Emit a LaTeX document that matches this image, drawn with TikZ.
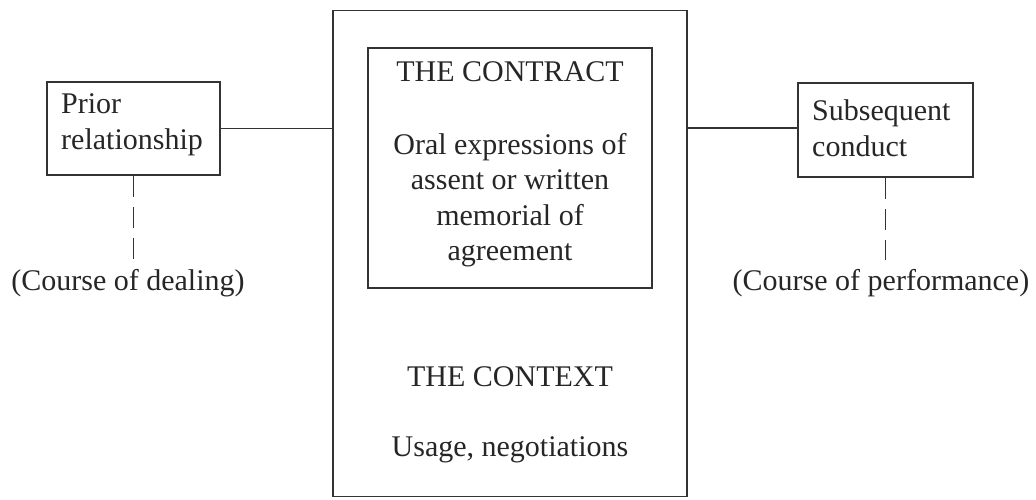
\documentclass[tikz,border=0pt]{standalone}
\usepackage{fontspec}
\setmainfont{Liberation Serif}
\begin{document}
\begin{tikzpicture}[x=1pt,y=-1pt,
  box/.style={draw=black!80, line width=1.8pt, inner sep=0pt},
  txt/.style={font=\fontsize{30}{35.5}\selectfont, text=black!85, inner sep=0pt},
  link/.style={draw=black!80, line width=1.8pt},
  dashlink/.style={draw=black!80, line width=1.8pt, dash pattern=on 21pt off 10pt}]
\useasboundingbox (0,0) rectangle (1036,499);
\node[box, minimum width=354pt, minimum height=486pt] (outer) at (510,253.5) {};
\node[box, minimum width=284pt, minimum height=240pt] (inner) at (510,168) {};
\node[box, minimum width=173pt, minimum height=93pt] (lbox) at (133.5,128.5) {};
\node[box, minimum width=175pt, minimum height=94pt] (rbox) at (885.5,130) {};
\node[txt] (contract) at (510,72) {THE CONTRACT};
\node[txt, align=center] (oral) at (510,200) {Oral expressions of\\assent or written\\memorial of\\agreement};
\node[txt] (context) at (510,377) {THE CONTEXT};
\node[txt] (usage) at (510,450) {Usage, negotiations};
\node[txt, align=left, anchor=west] (ltxt) at (61,125) {Prior\\relationship};
\node[txt, align=left, anchor=west] (rtxt) at (812,128) {Subsequent\\conduct};
\node[txt] (dealing) at (128,283) {(Course of dealing)};
\node[txt] (performance) at (881,283) {(Course of performance)};
\coordinate (dl) at (133.5,260);
\coordinate (dr) at (885.5,260);
\draw[link] (lbox.east) -- (lbox.east -| outer.west);
\draw[link] (rbox.west |- 0,128) -- (outer.east |- 0,128);
\draw[dashlink] (lbox.south) -- (dl);
\draw[dashlink] (rbox.south) -- (dr);
\end{tikzpicture}
\end{document}
